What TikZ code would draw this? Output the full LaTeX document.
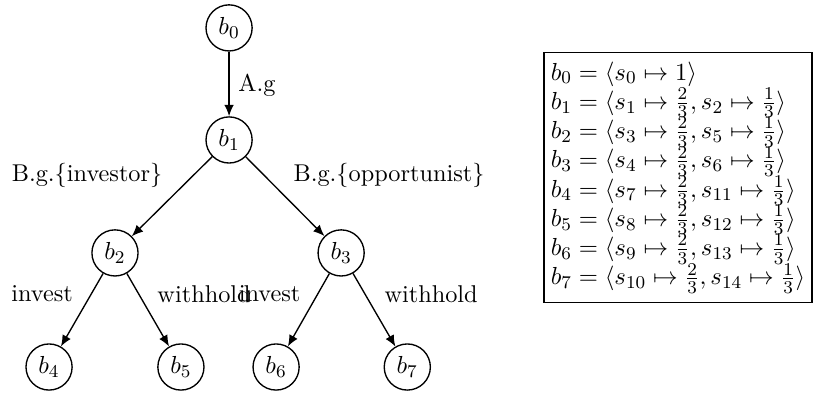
\documentclass[tikz,border=0pt]{standalone}
\usetikzlibrary{arrows.meta}
\newcommand\mytightlines{\lineskiplimit=-20pt\relax\lineskip=0pt\relax}
\begin{document}
\begin{tikzpicture}[x=1pt,y=1pt,
  every node/.style={font=\fontsize{10.8}{12}\selectfont},
  bnode/.style={circle,draw,semithick,minimum size=20.5pt,inner sep=1pt},
  arr/.style={-{Latex[length=5pt,width=4.2pt]},semithick},
  lbl/.style={inner sep=0pt}]
\useasboundingbox (0,0) rectangle (361.3,175.1);
\node[bnode] (b0) at (101.8,162.7) {$b_0$};
\node[bnode] (b1) at (101.8,112.9) {$b_1$};
\node[bnode] (b2) at (51.1,62.7) {$b_2$};
\node[bnode] (b3) at (151.6,62.7) {$b_3$};
\node[bnode] (b4) at (21.8,12) {$b_4$};
\node[bnode] (b5) at (80.4,12) {$b_5$};
\node[bnode] (b6) at (122.7,12) {$b_6$};
\node[bnode] (b7) at (181,12) {$b_7$};
\draw[arr] (b0) -- (b1);
\draw[arr] (b1) -- (b2);
\draw[arr] (b1) -- (b3);
\draw[arr] (b2) -- (b4);
\draw[arr] (b2) -- (b5);
\draw[arr] (b3) -- (b6);
\draw[arr] (b3) -- (b7);
\node[lbl] (lA) at (114.2,137.3) {A.g};
\node[lbl] (lI) at (38.7,97.3) {B.g.\{investor\}};
\node[lbl] (lO) at (172.9,97.3) {B.g.\{opportunist\}};
\node[lbl] (l1) at (18.7,44.4) {invest};
\node[lbl] (l2) at (90.7,44.4) {withhold};
\node[lbl] (l3) at (119.8,44.4) {invest};
\node[lbl] (l4) at (191.6,44.4) {withhold};
\node[draw,semithick,align=left,inner xsep=3pt,inner ysep=4pt,
  font={\fontsize{10.8}{13}\selectfont\mytightlines}] (beliefs) at (301.3,96.2) {%
$b_0 = \langle s_0 \mapsto 1\rangle$\\
$b_1 = \langle s_1 \mapsto \frac{2}{3}, s_2 \mapsto \frac{1}{3}\rangle$\\
$b_2 = \langle s_3 \mapsto \frac{2}{3}, s_5 \mapsto \frac{1}{3}\rangle$\\
$b_3 = \langle s_4 \mapsto \frac{2}{3}, s_6 \mapsto \frac{1}{3}\rangle$\\
$b_4 = \langle s_7 \mapsto \frac{2}{3}, s_{11} \mapsto \frac{1}{3}\rangle$\\
$b_5 = \langle s_8 \mapsto \frac{2}{3}, s_{12} \mapsto \frac{1}{3}\rangle$\\
$b_6 = \langle s_9 \mapsto \frac{2}{3}, s_{13} \mapsto \frac{1}{3}\rangle$\\
$b_7 = \langle s_{10} \mapsto \frac{2}{3}, s_{14} \mapsto \frac{1}{3}\rangle$};
\end{tikzpicture}
\end{document}
